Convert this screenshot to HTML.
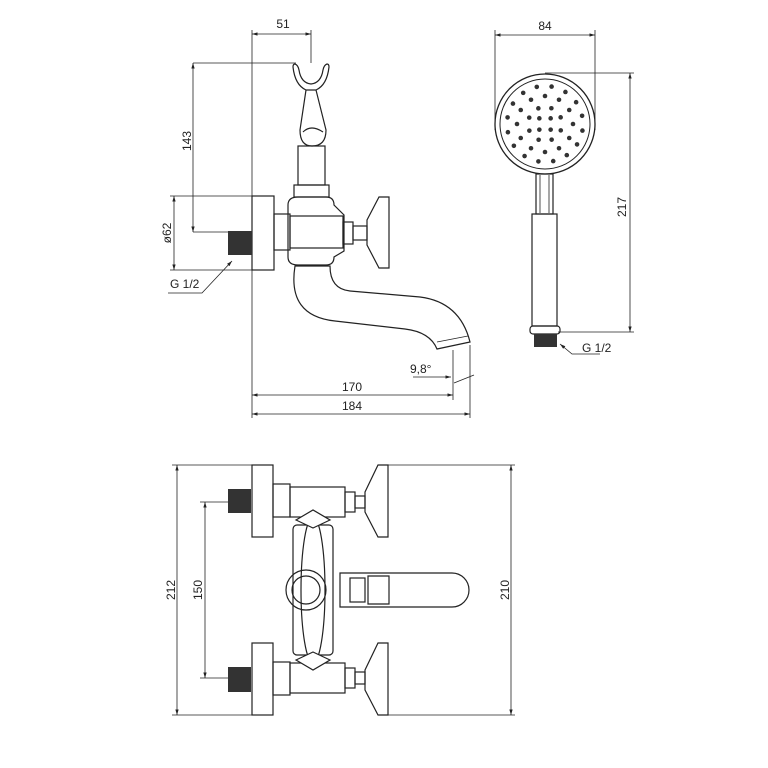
<!DOCTYPE html>
<html><head><meta charset="utf-8"><style>
html,body{margin:0;padding:0;background:#fff;}
svg{display:block;}
text{font-family:"Liberation Sans",sans-serif;font-size:12px;fill:#222;}
</style></head><body>
<svg id="s" width="768" height="768" viewBox="0 0 768 768" xmlns="http://www.w3.org/2000/svg">
<defs><marker id="a" viewBox="0 0 10 10" refX="10" refY="5" markerWidth="7" markerHeight="7" orient="auto-start-reverse"><path d="M0,2 L10,5 L0,8 z" fill="#222"/></marker></defs>
<g stroke="#222" stroke-width="0.8" fill="none">
<line x1="252" y1="30" x2="252" y2="418"/>
<line x1="311" y1="30" x2="311" y2="63"/>
<line x1="252" y1="34" x2="311" y2="34" marker-start="url(#a)" marker-end="url(#a)"/>
<line x1="193" y1="63" x2="296" y2="63"/>
<line x1="193" y1="63" x2="193" y2="232" marker-start="url(#a)" marker-end="url(#a)"/>
<line x1="193" y1="232" x2="230" y2="232"/>
<line x1="170" y1="196" x2="252" y2="196"/>
<line x1="170" y1="270" x2="252" y2="270"/>
<line x1="174" y1="196" x2="174" y2="270" marker-start="url(#a)" marker-end="url(#a)"/>
<polyline points="168,293 202,293 232,261" marker-end="url(#a)"/>
<line x1="453" y1="350" x2="453" y2="400"/>
<line x1="470" y1="345" x2="470" y2="418"/>
<line x1="252" y1="395" x2="453" y2="395" marker-start="url(#a)" marker-end="url(#a)"/>
<line x1="252" y1="414" x2="470" y2="414" marker-start="url(#a)" marker-end="url(#a)"/>
<polyline points="413,377 451,377" marker-end="url(#a)"/>
<line x1="454" y1="383" x2="474" y2="375"/>
<g stroke-width="1.2">
<path d="M295,64 q-2,0 -2,3 q2,18 13,23 h10 q11,-5 13,-23 q0,-3 -2,-3 q-3,1 -4,6 q-2,13 -12,14 q-10,-1 -12,-14 q-1,-5 -4,-6z"/>
<path d="M306,90 l-6,40 q0,16 12,16 q14,0 14,-16 l-10,-40"/>
<path d="M303,132 q8,-8 20,0"/>
<rect x="298" y="146" width="27" height="39"/>
<rect x="294" y="185" width="35" height="12"/>
<rect x="252" y="196" width="22" height="74"/>
<rect x="274" y="214" width="16" height="36"/>
<path d="M288,205 q0,-8 10,-8 h28 q8,0 8,8 l10,10 v36 l-10,6 q0,8 -8,8 h-28 q-10,0 -10,-8z"/>
<rect x="290" y="216" width="53" height="32"/>
<rect x="343" y="222" width="10" height="22"/>
<rect x="353" y="226" width="14" height="14"/>
<path d="M379,197 l10,0 v71 h-10 l-12,-23 v-25z"/>
<path d="M295,266 q-8,50 40,55 l70,8 q25,3 32,20 l33,-7 q-10,-40 -50,-45 l-70,-6 q-20,-2 -20,-25z"/>
</g>
<line x1="437" y1="342" x2="468" y2="336"/>
</g>
<rect x="228" y="231" width="24" height="24" fill="#333"/>
<g stroke="#222" stroke-width="0.8" fill="none">
<line x1="495" y1="30" x2="495" y2="130"/>
<line x1="595" y1="30" x2="595" y2="130"/>
<line x1="495" y1="35" x2="595" y2="35" marker-start="url(#a)" marker-end="url(#a)"/>
<line x1="545" y1="73" x2="634" y2="73"/>
<line x1="558" y1="332" x2="634" y2="332"/>
<line x1="630" y1="73" x2="630" y2="332" marker-start="url(#a)" marker-end="url(#a)"/>
<circle cx="545" cy="124" r="50" stroke-width="1.3"/>
<circle cx="545" cy="124" r="45" stroke-width="1"/>
<rect x="536" y="174" width="17" height="40" stroke-width="1.2"/>
<line x1="540" y1="175" x2="540" y2="213"/><line x1="549" y1="175" x2="549" y2="213"/>
<rect x="532" y="214" width="25" height="112" stroke-width="1.2"/>
<rect x="530" y="326" width="30" height="8" rx="3" stroke-width="1.2"/>
<polyline points="600,354 572,354 560,344" marker-end="url(#a)"/>
</g>
<rect x="534" y="334" width="23" height="13" fill="#333"/>
<g id="dots" fill="#333"></g>
<g stroke="#222" stroke-width="0.8" fill="none">
<line x1="172" y1="465" x2="252" y2="465"/>
<line x1="172" y1="715" x2="252" y2="715"/>
<line x1="177" y1="465" x2="177" y2="715" marker-start="url(#a)" marker-end="url(#a)"/>
<line x1="200" y1="502" x2="230" y2="502"/>
<line x1="200" y1="678" x2="230" y2="678"/>
<line x1="205" y1="502" x2="205" y2="678" marker-start="url(#a)" marker-end="url(#a)"/>
<line x1="387" y1="465" x2="515" y2="465"/>
<line x1="387" y1="715" x2="515" y2="715"/>
<line x1="511" y1="465" x2="511" y2="715" marker-start="url(#a)" marker-end="url(#a)"/>
<g stroke-width="1.2">
<rect x="252" y="465" width="21" height="72"/>
<rect x="273" y="484" width="17" height="33"/>
<rect x="290" y="487" width="55" height="30"/>
<rect x="345" y="492" width="10" height="20"/>
<rect x="355" y="496" width="10" height="12"/>
<path d="M378,465 h10 v72 h-10 l-13,-25 v-20z"/>
<rect x="252" y="643" width="21" height="72"/>
<rect x="273" y="662" width="17" height="33"/>
<rect x="290" y="663" width="55" height="30"/>
<rect x="345" y="668" width="10" height="20"/>
<rect x="355" y="672" width="10" height="12"/>
<path d="M378,643 h10 v72 h-10 l-13,-25 v-20z"/>
<path d="M340,573 h112 a17,17 0 0 1 0,34 h-112z" fill="#fff"/>
<rect x="293" y="525" width="40" height="130" rx="4" fill="#fff"/>
<circle cx="306" cy="590" r="20"/>
<circle cx="306" cy="590" r="14"/>
<ellipse cx="313" cy="590" rx="12" ry="73"/>
<rect x="350" y="578" width="15" height="24"/>
<path d="M368,576 h21 v28 h-21z"/>
<path d="M296,520 l17,-10 l17,10 l-17,8z" fill="#fff"/>
<path d="M296,660 l17,10 l17,-10 l-17,-8z" fill="#fff"/>
</g>
</g>
<rect x="228" y="489" width="23" height="24" fill="#333"/>
<rect x="228" y="667" width="23" height="25" fill="#333"/>
<text x="283" y="28" text-anchor="middle">51</text>
<text x="545" y="30" text-anchor="middle">84</text>
<text x="170" y="288">G 1/2</text>
<text x="582" y="352">G 1/2</text>
<text x="410" y="373">9,8°</text>
<text x="352" y="391" text-anchor="middle">170</text>
<text x="352" y="410" text-anchor="middle">184</text>
<text transform="translate(191,141) rotate(-90)" text-anchor="middle">143</text>
<text transform="translate(171,233) rotate(-90)" text-anchor="middle">ø62</text>
<text transform="translate(626,207) rotate(-90)" text-anchor="middle">217</text>
<text transform="translate(175,590) rotate(-90)" text-anchor="middle">212</text>
<text transform="translate(202,590) rotate(-90)" text-anchor="middle">150</text>
<text transform="translate(509,590) rotate(-90)" text-anchor="middle">210</text>
</svg>
<script>
var g=document.getElementById('dots'),ns='http://www.w3.org/2000/svg';
[[8,4,45],[17,8,22],[28,12,0],[38,16,10]].forEach(function(r){for(var i=0;i<r[1];i++){var t=(r[2]+i*360/r[1])*Math.PI/180;var c=document.createElementNS(ns,'circle');c.setAttribute('cx',545+r[0]*Math.cos(t));c.setAttribute('cy',124+r[0]*Math.sin(t));c.setAttribute('r',2.3);g.appendChild(c);}});
</script>
</body></html>
